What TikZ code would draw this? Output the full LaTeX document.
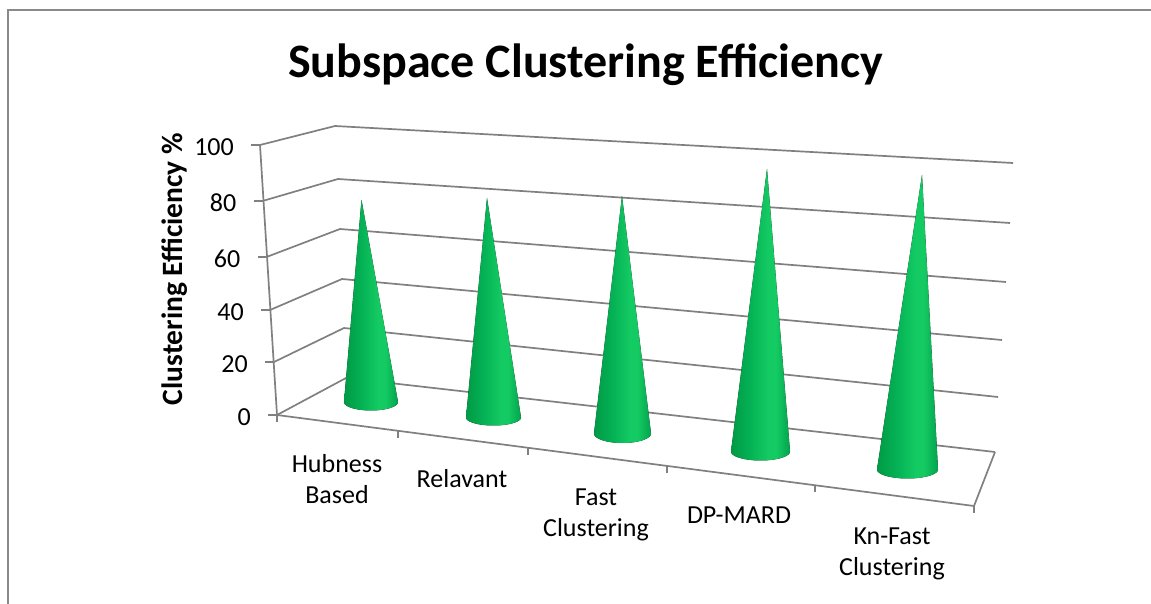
\documentclass[tikz,border=0pt]{standalone}
\usepackage{fontspec}
\setmainfont{Carlito}
\usetikzlibrary{calc}

\definecolor{gridgray}{HTML}{808080}
\definecolor{framegray}{HTML}{8A8A8A}
\definecolor{cdark}{HTML}{009A45}
\definecolor{cmid}{HTML}{05B356}
\definecolor{clight}{HTML}{14CB63}
\definecolor{cright}{HTML}{02A34D}

% cone body: dark left flank, bright highlight right of centre
\pgfdeclarehorizontalshading{coneshade}{100bp}{color(0bp)=(cdark); color(25bp)=(cdark); color(42bp)=(cmid); color(57bp)=(clight); color(63bp)=(clight); color(75bp)=(cright); color(100bp)=(cright)}

% apex x, apex y, base centre x, base centre y, base x radius, base y radius
\newcommand{\drawcone}[6]{%
  \fill[shading=coneshade] (#1,#2) -- plot[domain=180:360,samples=48] ({#3+#5*cos(\x)},{#4-#6*sin(\x)}) -- cycle;}

\begin{document}
\begin{tikzpicture}[x=1pt,y=-1pt,
  grid/.style={draw=gridgray,line width=1.7pt},
  frame/.style={draw=framegray,line width=1.8pt},
  ticklabel/.style={anchor=east,inner sep=0pt,font=\fontsize{26}{31}\selectfont},
  catlabel/.style={anchor=north,inner sep=0pt,align=center,font=\fontsize{26}{31}\selectfont},
  charttitle/.style={anchor=base,inner sep=0pt,font=\bfseries\fontsize{48}{58}\selectfont},
  axistitle/.style={anchor=base,rotate=90,inner sep=0pt,font=\bfseries\fontsize{29.5}{35}\selectfont}]

\useasboundingbox (0,0) rectangle (1151,604);

% chart frame
\draw[frame] (8,606) -- (8,10) -- (1153,10);

% front-left value axis points
\coordinate (F100) at (260,145);
\coordinate (F80)  at (262.5,201);
\coordinate (F60)  at (266.5,257);
\coordinate (F40)  at (270,310);
\coordinate (F20)  at (274,362);
\coordinate (F0)   at (277,415);
% back-left corner of the walls
\coordinate (B100) at (335,126);
\coordinate (B80)  at (338,179);
\coordinate (B60)  at (340,229);
\coordinate (B40)  at (342,279);
\coordinate (B20)  at (344,328);
\coordinate (B0)   at (346,378);
% right end of the back wall
\coordinate (R100) at (1013,163);
\coordinate (R80)  at (1010,223);
\coordinate (R60)  at (1006,282);
\coordinate (R40)  at (1002,340);
\coordinate (R20)  at (998,397);
\coordinate (R0)   at (995,452);
% front-right floor corner
\coordinate (FR) at (974,506);

% gridlines over side wall and back wall, with ticks
\foreach \v in {100,80,60,40,20,0}{
  \draw[grid] (F\v) -- (B\v) -- (R\v);
  \draw[grid] (F\v) -- ++(-9,0);
}
% value axis and front/right floor edges
\draw[grid] (F100) -- (F0) -- (FR) -- (R0);
\draw[grid] (F0) -- ++(0,7);
\draw[grid] (FR) -- ++(0,7);
\foreach \t in {0.1736,0.3601,0.5595,0.7719}{
  \draw[grid] ($(F0)!\t!(FR)$) -- ++(0,7);
}

% value labels
\node[ticklabel] (l100) at ($(F100)+(-26,2)$) {100};
\node[ticklabel] (l80)  at ($(F80)+(-26,2)$) {80};
\node[ticklabel] (l60)  at ($(F60)+(-26,2)$) {60};
\node[ticklabel] (l40)  at ($(F40)+(-26,2)$) {40};
\node[ticklabel] (l20)  at ($(F20)+(-26,2)$) {20};
\node[ticklabel] (l0)   at ($(F0)+(-26,2)$) {0};

% cones
\drawcone{361.5}{200}{371}{402}{27}{8.5}
\drawcone{487}{198}{493.5}{417.5}{27.5}{8}
\drawcone{622}{196}{622.5}{433.5}{28.5}{9.5}
\drawcone{767}{169}{760.5}{451.5}{29.5}{9}
\drawcone{922}{175}{907.5}{469.5}{30.5}{9}

% category labels
\node[catlabel] (c1) at (337,450.3) {\strut Hubness\\\strut Based};
\node[catlabel] (c2) at (462,465.3) {\strut Relavant};
\node[catlabel] (c3) at (596,483.3) {\strut Fast\\\strut Clustering};
\node[catlabel] (c4) at (739,501.3) {\strut DP-MARD};
\node[catlabel] (c5) at (892,522.3) {\strut Kn-Fast\\\strut Clustering};

% titles
\node[charttitle] (title) at (585.5,78) {Subspace Clustering Efficiency};
\node[axistitle] (ytitle) at (182.5,269) {Clustering Efficiency \%};
\end{tikzpicture}
\end{document}
